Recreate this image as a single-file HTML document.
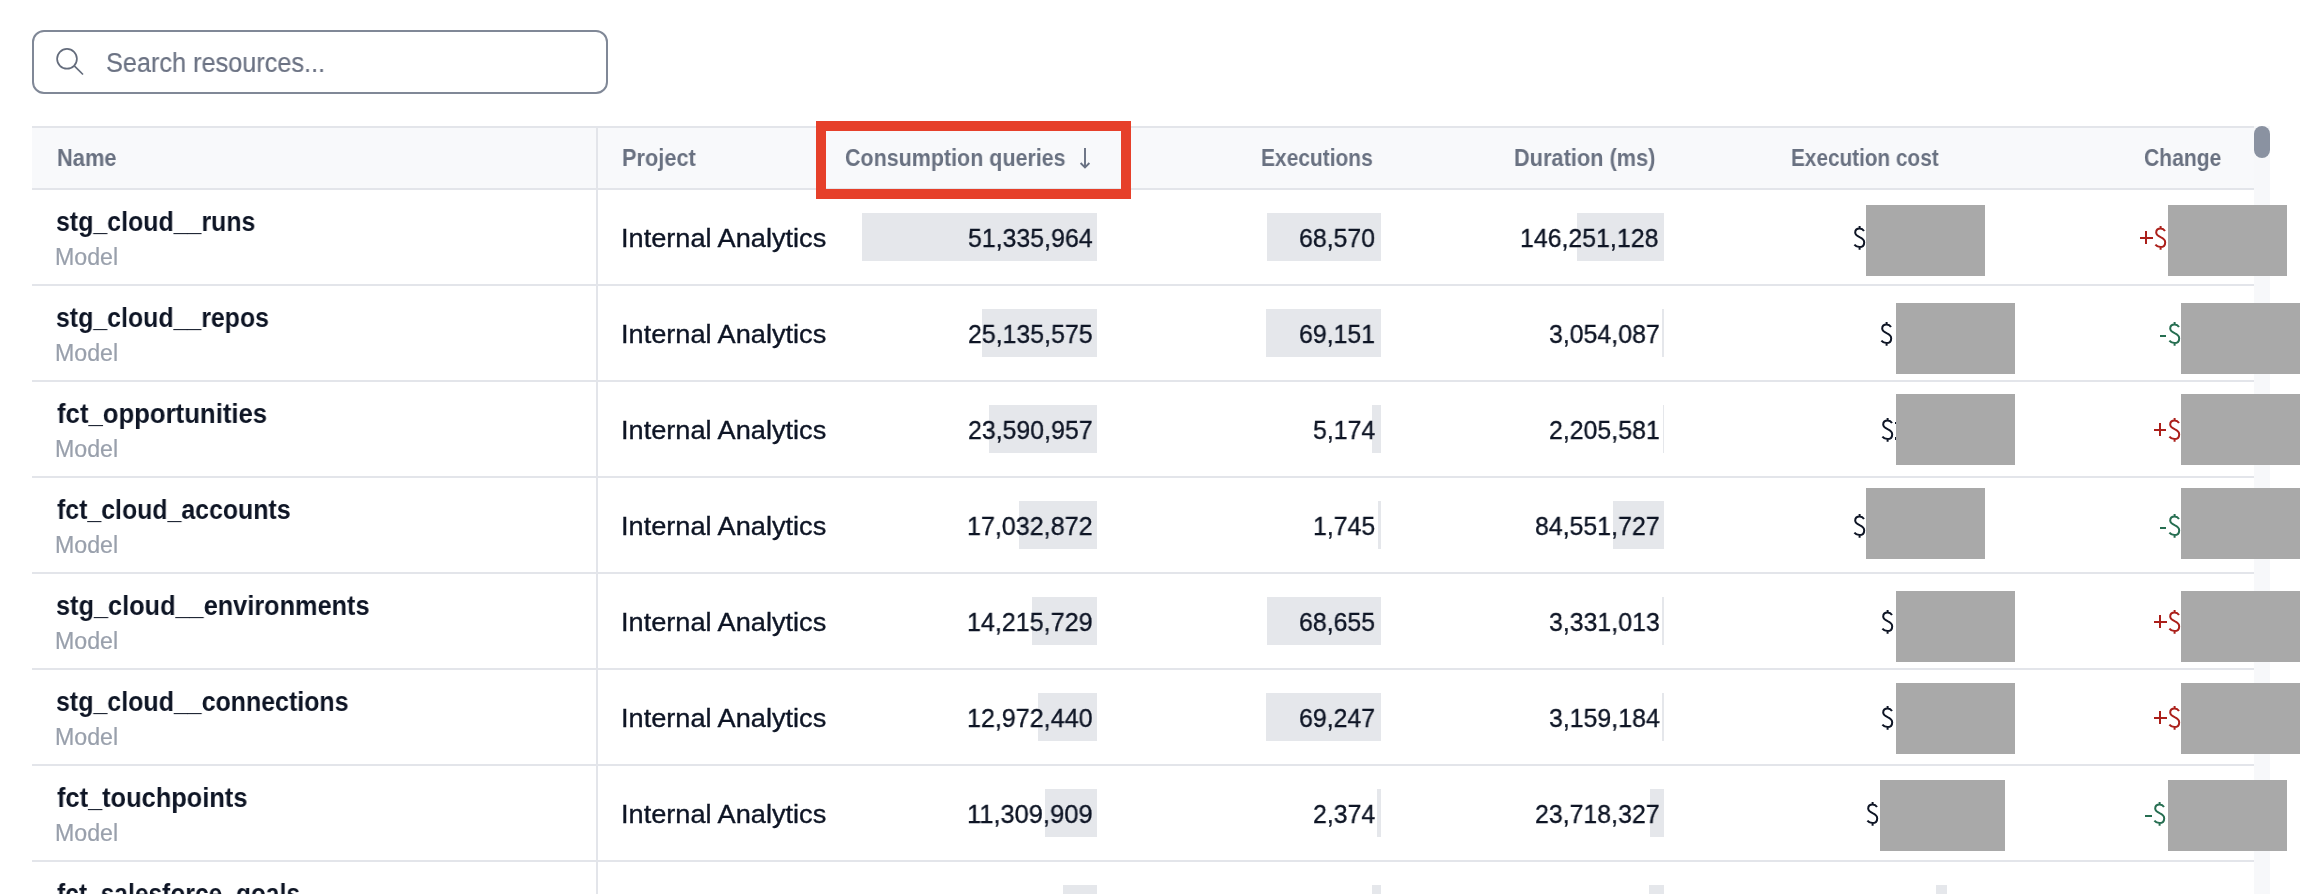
<!DOCTYPE html>
<html><head><meta charset="utf-8"><style>
html,body{margin:0;padding:0;background:#fff;width:2304px;height:894px;overflow:hidden;position:relative;font-family:"Liberation Sans",sans-serif}
.t{position:absolute;white-space:pre;line-height:0;transform-origin:0 0;will-change:transform}
.hl{position:absolute;left:32px;width:2222px;height:2px;background:#e3e5ea}
.bar{position:absolute;height:48px;background:#e5e7eb}
.rd{position:absolute;background:#a9a9a9}
#search{position:absolute;left:32px;top:30px;width:576px;height:64px;box-sizing:border-box;border:2px solid #808897;border-radius:12px}
#head{position:absolute;left:32px;top:126px;width:2222px;height:64px;box-sizing:border-box;background:#f8f9fb;border-top:2px solid #e3e5ea;border-bottom:2px solid #e3e5ea}
#vl{position:absolute;left:596px;top:127px;width:2px;height:767px;background:#e3e5ea}
#track{position:absolute;left:2254px;top:126px;width:16px;height:768px;background:#f7f8fa}
#thumb{position:absolute;left:2254px;top:126px;width:16px;height:32px;border-radius:8px;background:#8a92a1}
#redbox{position:absolute;left:816px;top:121px;width:315px;height:78px;box-sizing:border-box;border:10px solid #e6402a}
</style></head><body>
<div id="search"></div>
<svg style="position:absolute;left:0;top:0" width="100" height="100"><circle cx="67" cy="58.8" r="9.9" fill="none" stroke="#646c7c" stroke-width="1.7"/><line x1="74.3" y1="65.8" x2="83" y2="74.5" stroke="#646c7c" stroke-width="1.7"/></svg>
<div id="head"></div>
<div class=hl style="top:284px"></div>
<div class=hl style="top:380px"></div>
<div class=hl style="top:476px"></div>
<div class=hl style="top:572px"></div>
<div class=hl style="top:668px"></div>
<div class=hl style="top:764px"></div>
<div class=hl style="top:860px"></div>
<div id="vl"></div>
<div id="track"></div><div id="thumb"></div>
<div class=bar style="left:862.0px;top:213px;width:235.0px"></div>
<div class=bar style="left:1267.1px;top:213px;width:113.9px"></div>
<div class=bar style="left:1576.5px;top:213px;width:87.5px"></div>
<div class=bar style="left:981.9px;top:309px;width:115.1px"></div>
<div class=bar style="left:1266.2px;top:309px;width:114.8px"></div>
<div class=bar style="left:1662.2px;top:309px;width:1.8px"></div>
<div class=bar style="left:989.0px;top:405px;width:108.0px"></div>
<div class=bar style="left:1372.4px;top:405px;width:8.6px"></div>
<div class=bar style="left:1662.5px;top:405px;width:1.5px"></div>
<div class=bar style="left:1019.0px;top:501px;width:78.0px"></div>
<div class=bar style="left:1378.1px;top:501px;width:2.9px"></div>
<div class=bar style="left:1613.4px;top:501px;width:50.6px"></div>
<div class=bar style="left:1031.9px;top:597px;width:65.1px"></div>
<div class=bar style="left:1267.0px;top:597px;width:114.0px"></div>
<div class=bar style="left:1662.0px;top:597px;width:2.0px"></div>
<div class=bar style="left:1037.6px;top:693px;width:59.4px"></div>
<div class=bar style="left:1266.0px;top:693px;width:115.0px"></div>
<div class=bar style="left:1662.1px;top:693px;width:1.9px"></div>
<div class=bar style="left:1045.2px;top:789px;width:51.8px"></div>
<div class=bar style="left:1377.1px;top:789px;width:3.9px"></div>
<div class=bar style="left:1649.8px;top:789px;width:14.2px"></div>
<div class=bar style="left:1063.0px;top:885px;width:34.0px"></div>
<div class=bar style="left:1372.0px;top:885px;width:9.0px"></div>
<div class=bar style="left:1649.0px;top:885px;width:15.0px"></div>
<div class=bar style="left:1936.0px;top:885px;width:11.0px"></div>
<div class=t style="left:106.16px;top:63px;font-size:27px;font-weight:400;color:#6b7283;transform:scaleX(0.9364);-webkit-text-stroke:0.2px #6b7283">Search resources...</div>
<div class=t style="left:56.85px;top:158px;font-size:23px;font-weight:700;color:#697181;transform:scaleX(0.9508)">Name</div>
<div class=t style="left:622.05px;top:158px;font-size:23px;font-weight:700;color:#697181;transform:scaleX(0.9468)">Project</div>
<div class=t style="left:844.67px;top:158px;font-size:23px;font-weight:700;color:#697181;transform:scaleX(0.9332)">Consumption queries</div>
<div class=t style="left:1261.09px;top:158px;font-size:23px;font-weight:700;color:#697181;transform:scaleX(0.9107)">Executions</div>
<div class=t style="left:1514.45px;top:158px;font-size:23px;font-weight:700;color:#697181;transform:scaleX(0.9463)">Duration (ms)</div>
<div class=t style="left:1790.90px;top:158px;font-size:23px;font-weight:700;color:#697181;transform:scaleX(0.9025)">Execution cost</div>
<div class=t style="left:2144.48px;top:158px;font-size:23px;font-weight:700;color:#697181;transform:scaleX(0.9169)">Change</div>
<div class=t style="left:55.61px;top:222px;font-size:28px;font-weight:700;color:#0e1525;transform:scaleX(0.8896)">stg_cloud__runs</div>
<div class=t style="left:55.48px;top:257px;font-size:23px;font-weight:400;color:#99a0ac;transform:scaleX(1.0085);-webkit-text-stroke:0.2px #99a0ac">Model</div>
<div class=t style="left:620.95px;top:238px;font-size:26.5px;font-weight:400;color:#0e1525;transform:scaleX(1.0244);-webkit-text-stroke:0.35px #0e1525">Internal Analytics</div>
<div class=t style="left:55.61px;top:318px;font-size:28px;font-weight:700;color:#0e1525;transform:scaleX(0.8887)">stg_cloud__repos</div>
<div class=t style="left:55.48px;top:353px;font-size:23px;font-weight:400;color:#99a0ac;transform:scaleX(1.0085);-webkit-text-stroke:0.2px #99a0ac">Model</div>
<div class=t style="left:620.95px;top:334px;font-size:26.5px;font-weight:400;color:#0e1525;transform:scaleX(1.0244);-webkit-text-stroke:0.35px #0e1525">Internal Analytics</div>
<div class=t style="left:56.50px;top:414px;font-size:28px;font-weight:700;color:#0e1525;transform:scaleX(0.9189)">fct_opportunities</div>
<div class=t style="left:55.48px;top:449px;font-size:23px;font-weight:400;color:#99a0ac;transform:scaleX(1.0085);-webkit-text-stroke:0.2px #99a0ac">Model</div>
<div class=t style="left:620.95px;top:430px;font-size:26.5px;font-weight:400;color:#0e1525;transform:scaleX(1.0244);-webkit-text-stroke:0.35px #0e1525">Internal Analytics</div>
<div class=t style="left:56.50px;top:510px;font-size:28px;font-weight:700;color:#0e1525;transform:scaleX(0.8882)">fct_cloud_accounts</div>
<div class=t style="left:55.48px;top:545px;font-size:23px;font-weight:400;color:#99a0ac;transform:scaleX(1.0085);-webkit-text-stroke:0.2px #99a0ac">Model</div>
<div class=t style="left:620.95px;top:526px;font-size:26.5px;font-weight:400;color:#0e1525;transform:scaleX(1.0244);-webkit-text-stroke:0.35px #0e1525">Internal Analytics</div>
<div class=t style="left:55.60px;top:606px;font-size:28px;font-weight:700;color:#0e1525;transform:scaleX(0.9035)">stg_cloud__environments</div>
<div class=t style="left:55.48px;top:641px;font-size:23px;font-weight:400;color:#99a0ac;transform:scaleX(1.0085);-webkit-text-stroke:0.2px #99a0ac">Model</div>
<div class=t style="left:620.95px;top:622px;font-size:26.5px;font-weight:400;color:#0e1525;transform:scaleX(1.0244);-webkit-text-stroke:0.35px #0e1525">Internal Analytics</div>
<div class=t style="left:55.61px;top:702px;font-size:28px;font-weight:700;color:#0e1525;transform:scaleX(0.8911)">stg_cloud__connections</div>
<div class=t style="left:55.48px;top:737px;font-size:23px;font-weight:400;color:#99a0ac;transform:scaleX(1.0085);-webkit-text-stroke:0.2px #99a0ac">Model</div>
<div class=t style="left:620.95px;top:718px;font-size:26.5px;font-weight:400;color:#0e1525;transform:scaleX(1.0244);-webkit-text-stroke:0.35px #0e1525">Internal Analytics</div>
<div class=t style="left:56.50px;top:798px;font-size:28px;font-weight:700;color:#0e1525;transform:scaleX(0.9067)">fct_touchpoints</div>
<div class=t style="left:55.48px;top:833px;font-size:23px;font-weight:400;color:#99a0ac;transform:scaleX(1.0085);-webkit-text-stroke:0.2px #99a0ac">Model</div>
<div class=t style="left:620.95px;top:814px;font-size:26.5px;font-weight:400;color:#0e1525;transform:scaleX(1.0244);-webkit-text-stroke:0.35px #0e1525">Internal Analytics</div>
<div class=t style="left:56.50px;top:894px;font-size:28px;font-weight:700;color:#0e1525;transform:scaleX(0.8772)">fct_salesforce_goals</div>
<div class=t style="left:967.86px;top:238px;font-size:26.5px;font-weight:400;color:#0e1525;transform:scaleX(0.9389);-webkit-text-stroke:0.35px #0e1525">51,335,964</div>
<div class=t style="left:1299.39px;top:238px;font-size:26.5px;font-weight:400;color:#0e1525;transform:scaleX(0.9389);-webkit-text-stroke:0.35px #0e1525">68,570</div>
<div class=t style="left:1520.48px;top:238px;font-size:26.5px;font-weight:400;color:#0e1525;transform:scaleX(0.9389);-webkit-text-stroke:0.35px #0e1525">146,251,128</div>
<div class=t style="left:967.86px;top:334px;font-size:26.5px;font-weight:400;color:#0e1525;transform:scaleX(0.9389);-webkit-text-stroke:0.35px #0e1525">25,135,575</div>
<div class=t style="left:1299.39px;top:334px;font-size:26.5px;font-weight:400;color:#0e1525;transform:scaleX(0.9389);-webkit-text-stroke:0.35px #0e1525">69,151</div>
<div class=t style="left:1548.65px;top:334px;font-size:26.5px;font-weight:400;color:#0e1525;transform:scaleX(0.9389);-webkit-text-stroke:0.35px #0e1525">3,054,087</div>
<div class=t style="left:967.86px;top:430px;font-size:26.5px;font-weight:400;color:#0e1525;transform:scaleX(0.9389);-webkit-text-stroke:0.35px #0e1525">23,590,957</div>
<div class=t style="left:1312.53px;top:430px;font-size:26.5px;font-weight:400;color:#0e1525;transform:scaleX(0.9389);-webkit-text-stroke:0.35px #0e1525">5,174</div>
<div class=t style="left:1548.65px;top:430px;font-size:26.5px;font-weight:400;color:#0e1525;transform:scaleX(0.9389);-webkit-text-stroke:0.35px #0e1525">2,205,581</div>
<div class=t style="left:966.91px;top:526px;font-size:26.5px;font-weight:400;color:#0e1525;transform:scaleX(0.9462);-webkit-text-stroke:0.35px #0e1525">17,032,872</div>
<div class=t style="left:1313.47px;top:526px;font-size:26.5px;font-weight:400;color:#0e1525;transform:scaleX(0.9389);-webkit-text-stroke:0.35px #0e1525">1,745</div>
<div class=t style="left:1534.56px;top:526px;font-size:26.5px;font-weight:400;color:#0e1525;transform:scaleX(0.9389);-webkit-text-stroke:0.35px #0e1525">84,551,727</div>
<div class=t style="left:966.91px;top:622px;font-size:26.5px;font-weight:400;color:#0e1525;transform:scaleX(0.9462);-webkit-text-stroke:0.35px #0e1525">14,215,729</div>
<div class=t style="left:1299.39px;top:622px;font-size:26.5px;font-weight:400;color:#0e1525;transform:scaleX(0.9389);-webkit-text-stroke:0.35px #0e1525">68,655</div>
<div class=t style="left:1548.65px;top:622px;font-size:26.5px;font-weight:400;color:#0e1525;transform:scaleX(0.9389);-webkit-text-stroke:0.35px #0e1525">3,331,013</div>
<div class=t style="left:966.91px;top:718px;font-size:26.5px;font-weight:400;color:#0e1525;transform:scaleX(0.9462);-webkit-text-stroke:0.35px #0e1525">12,972,440</div>
<div class=t style="left:1299.39px;top:718px;font-size:26.5px;font-weight:400;color:#0e1525;transform:scaleX(0.9389);-webkit-text-stroke:0.35px #0e1525">69,247</div>
<div class=t style="left:1548.65px;top:718px;font-size:26.5px;font-weight:400;color:#0e1525;transform:scaleX(0.9389);-webkit-text-stroke:0.35px #0e1525">3,159,184</div>
<div class=t style="left:966.88px;top:814px;font-size:26.5px;font-weight:400;color:#0e1525;transform:scaleX(0.9609);-webkit-text-stroke:0.35px #0e1525">11,309,909</div>
<div class=t style="left:1312.53px;top:814px;font-size:26.5px;font-weight:400;color:#0e1525;transform:scaleX(0.9389);-webkit-text-stroke:0.35px #0e1525">2,374</div>
<div class=t style="left:1534.56px;top:814px;font-size:26.5px;font-weight:400;color:#0e1525;transform:scaleX(0.9389);-webkit-text-stroke:0.35px #0e1525">23,718,327</div>
<svg style="position:absolute;left:0;top:0" width="1200" height="200"><path d="M1085 148 V167 M1080.6 163 L1085 167.4 L1089.4 163" fill="none" stroke="#697183" stroke-width="1.9"/></svg>
<div style="position:absolute;left:2140.1px;top:236.5px;width:12.7px;height:2px;background:#ab1f1a"></div>
<div style="position:absolute;left:2145.4px;top:231.2px;width:2px;height:12.7px;background:#ab1f1a"></div>
<div style="position:absolute;left:2160.0px;top:334.8px;width:6.4px;height:1.9px;background:#266e51"></div>
<div style="position:absolute;left:2153.5px;top:428.5px;width:12.7px;height:2px;background:#ab1f1a"></div>
<div style="position:absolute;left:2158.8px;top:423.2px;width:2px;height:12.7px;background:#ab1f1a"></div>
<div style="position:absolute;left:2159.5px;top:526.8px;width:6.4px;height:1.9px;background:#266e51"></div>
<div style="position:absolute;left:2154.0px;top:620.5px;width:12.7px;height:2px;background:#ab1f1a"></div>
<div style="position:absolute;left:2159.3px;top:615.2px;width:2px;height:12.7px;background:#ab1f1a"></div>
<div style="position:absolute;left:2154.0px;top:716.5px;width:12.7px;height:2px;background:#ab1f1a"></div>
<div style="position:absolute;left:2159.3px;top:711.2px;width:2px;height:12.7px;background:#ab1f1a"></div>
<div style="position:absolute;left:2145.2px;top:814.8px;width:6.4px;height:1.9px;background:#266e51"></div>
<svg style="position:absolute;left:1852.5px;top:225.0px" width="14" height="26" viewBox="-1 -1 14 26"><path d="M10 5 C9 3.4 7.5 2.6 5.6 2.6 C3 2.6 1.2 4.2 1.2 6.5 C1.2 9 3.2 10 5.6 11.2 C8.2 12.4 10.2 13.6 10.2 16.4 C10.2 19.2 8.2 21 5.4 21 C3.2 21 1.5 20 0.4 18.6 M5.6 0 V2.6 M5.6 21 V23.8" fill="none" stroke="#0e1525" stroke-width="2"/></svg>
<svg style="position:absolute;left:2154.1px;top:225.0px" width="14" height="26" viewBox="-1 -1 14 26"><path d="M10 5 C9 3.4 7.5 2.6 5.6 2.6 C3 2.6 1.2 4.2 1.2 6.5 C1.2 9 3.2 10 5.6 11.2 C8.2 12.4 10.2 13.6 10.2 16.4 C10.2 19.2 8.2 21 5.4 21 C3.2 21 1.5 20 0.4 18.6 M5.6 0 V2.6 M5.6 21 V23.8" fill="none" stroke="#ab1f1a" stroke-width="2"/></svg>
<svg style="position:absolute;left:1880.0px;top:321.0px" width="14" height="26" viewBox="-1 -1 14 26"><path d="M10 5 C9 3.4 7.5 2.6 5.6 2.6 C3 2.6 1.2 4.2 1.2 6.5 C1.2 9 3.2 10 5.6 11.2 C8.2 12.4 10.2 13.6 10.2 16.4 C10.2 19.2 8.2 21 5.4 21 C3.2 21 1.5 20 0.4 18.6 M5.6 0 V2.6 M5.6 21 V23.8" fill="none" stroke="#0e1525" stroke-width="2"/></svg>
<svg style="position:absolute;left:2168.0px;top:321.0px" width="14" height="26" viewBox="-1 -1 14 26"><path d="M10 5 C9 3.4 7.5 2.6 5.6 2.6 C3 2.6 1.2 4.2 1.2 6.5 C1.2 9 3.2 10 5.6 11.2 C8.2 12.4 10.2 13.6 10.2 16.4 C10.2 19.2 8.2 21 5.4 21 C3.2 21 1.5 20 0.4 18.6 M5.6 0 V2.6 M5.6 21 V23.8" fill="none" stroke="#266e51" stroke-width="2"/></svg>
<svg style="position:absolute;left:1880.8px;top:417.0px" width="14" height="26" viewBox="-1 -1 14 26"><path d="M10 5 C9 3.4 7.5 2.6 5.6 2.6 C3 2.6 1.2 4.2 1.2 6.5 C1.2 9 3.2 10 5.6 11.2 C8.2 12.4 10.2 13.6 10.2 16.4 C10.2 19.2 8.2 21 5.4 21 C3.2 21 1.5 20 0.4 18.6 M5.6 0 V2.6 M5.6 21 V23.8" fill="none" stroke="#0e1525" stroke-width="2"/></svg>
<svg style="position:absolute;left:2167.5px;top:417.0px" width="14" height="26" viewBox="-1 -1 14 26"><path d="M10 5 C9 3.4 7.5 2.6 5.6 2.6 C3 2.6 1.2 4.2 1.2 6.5 C1.2 9 3.2 10 5.6 11.2 C8.2 12.4 10.2 13.6 10.2 16.4 C10.2 19.2 8.2 21 5.4 21 C3.2 21 1.5 20 0.4 18.6 M5.6 0 V2.6 M5.6 21 V23.8" fill="none" stroke="#ab1f1a" stroke-width="2"/></svg>
<svg style="position:absolute;left:1852.7px;top:513.0px" width="14" height="26" viewBox="-1 -1 14 26"><path d="M10 5 C9 3.4 7.5 2.6 5.6 2.6 C3 2.6 1.2 4.2 1.2 6.5 C1.2 9 3.2 10 5.6 11.2 C8.2 12.4 10.2 13.6 10.2 16.4 C10.2 19.2 8.2 21 5.4 21 C3.2 21 1.5 20 0.4 18.6 M5.6 0 V2.6 M5.6 21 V23.8" fill="none" stroke="#0e1525" stroke-width="2"/></svg>
<svg style="position:absolute;left:2167.5px;top:513.0px" width="14" height="26" viewBox="-1 -1 14 26"><path d="M10 5 C9 3.4 7.5 2.6 5.6 2.6 C3 2.6 1.2 4.2 1.2 6.5 C1.2 9 3.2 10 5.6 11.2 C8.2 12.4 10.2 13.6 10.2 16.4 C10.2 19.2 8.2 21 5.4 21 C3.2 21 1.5 20 0.4 18.6 M5.6 0 V2.6 M5.6 21 V23.8" fill="none" stroke="#266e51" stroke-width="2"/></svg>
<svg style="position:absolute;left:1880.7px;top:609.0px" width="14" height="26" viewBox="-1 -1 14 26"><path d="M10 5 C9 3.4 7.5 2.6 5.6 2.6 C3 2.6 1.2 4.2 1.2 6.5 C1.2 9 3.2 10 5.6 11.2 C8.2 12.4 10.2 13.6 10.2 16.4 C10.2 19.2 8.2 21 5.4 21 C3.2 21 1.5 20 0.4 18.6 M5.6 0 V2.6 M5.6 21 V23.8" fill="none" stroke="#0e1525" stroke-width="2"/></svg>
<svg style="position:absolute;left:2168.0px;top:609.0px" width="14" height="26" viewBox="-1 -1 14 26"><path d="M10 5 C9 3.4 7.5 2.6 5.6 2.6 C3 2.6 1.2 4.2 1.2 6.5 C1.2 9 3.2 10 5.6 11.2 C8.2 12.4 10.2 13.6 10.2 16.4 C10.2 19.2 8.2 21 5.4 21 C3.2 21 1.5 20 0.4 18.6 M5.6 0 V2.6 M5.6 21 V23.8" fill="none" stroke="#ab1f1a" stroke-width="2"/></svg>
<svg style="position:absolute;left:1880.5px;top:705.0px" width="14" height="26" viewBox="-1 -1 14 26"><path d="M10 5 C9 3.4 7.5 2.6 5.6 2.6 C3 2.6 1.2 4.2 1.2 6.5 C1.2 9 3.2 10 5.6 11.2 C8.2 12.4 10.2 13.6 10.2 16.4 C10.2 19.2 8.2 21 5.4 21 C3.2 21 1.5 20 0.4 18.6 M5.6 0 V2.6 M5.6 21 V23.8" fill="none" stroke="#0e1525" stroke-width="2"/></svg>
<svg style="position:absolute;left:2168.0px;top:705.0px" width="14" height="26" viewBox="-1 -1 14 26"><path d="M10 5 C9 3.4 7.5 2.6 5.6 2.6 C3 2.6 1.2 4.2 1.2 6.5 C1.2 9 3.2 10 5.6 11.2 C8.2 12.4 10.2 13.6 10.2 16.4 C10.2 19.2 8.2 21 5.4 21 C3.2 21 1.5 20 0.4 18.6 M5.6 0 V2.6 M5.6 21 V23.8" fill="none" stroke="#ab1f1a" stroke-width="2"/></svg>
<svg style="position:absolute;left:1866.4px;top:801.0px" width="14" height="26" viewBox="-1 -1 14 26"><path d="M10 5 C9 3.4 7.5 2.6 5.6 2.6 C3 2.6 1.2 4.2 1.2 6.5 C1.2 9 3.2 10 5.6 11.2 C8.2 12.4 10.2 13.6 10.2 16.4 C10.2 19.2 8.2 21 5.4 21 C3.2 21 1.5 20 0.4 18.6 M5.6 0 V2.6 M5.6 21 V23.8" fill="none" stroke="#0e1525" stroke-width="2"/></svg>
<svg style="position:absolute;left:2153.2px;top:801.0px" width="14" height="26" viewBox="-1 -1 14 26"><path d="M10 5 C9 3.4 7.5 2.6 5.6 2.6 C3 2.6 1.2 4.2 1.2 6.5 C1.2 9 3.2 10 5.6 11.2 C8.2 12.4 10.2 13.6 10.2 16.4 C10.2 19.2 8.2 21 5.4 21 C3.2 21 1.5 20 0.4 18.6 M5.6 0 V2.6 M5.6 21 V23.8" fill="none" stroke="#266e51" stroke-width="2"/></svg>
<div style="position:absolute;left:1895px;top:422px;width:1.5px;height:2px;background:#0e1525"></div><div style="position:absolute;left:1895px;top:437px;width:1.5px;height:2.5px;background:#0e1525"></div>
<div class=rd style="left:1866px;top:205px;width:119px;height:71px"></div>
<div class=rd style="left:2168px;top:205px;width:119px;height:71px"></div>
<div class=rd style="left:1896px;top:303px;width:119px;height:71px"></div>
<div class=rd style="left:2181px;top:303px;width:119px;height:71px"></div>
<div class=rd style="left:1896px;top:394px;width:119px;height:71px"></div>
<div class=rd style="left:2181px;top:394px;width:119px;height:71px"></div>
<div class=rd style="left:1866px;top:488px;width:119px;height:71px"></div>
<div class=rd style="left:2181px;top:488px;width:119px;height:71px"></div>
<div class=rd style="left:1896px;top:591px;width:119px;height:71px"></div>
<div class=rd style="left:2181px;top:591px;width:119px;height:71px"></div>
<div class=rd style="left:1896px;top:683px;width:119px;height:71px"></div>
<div class=rd style="left:2181px;top:683px;width:119px;height:71px"></div>
<div class=rd style="left:1880px;top:780px;width:125px;height:71px"></div>
<div class=rd style="left:2168px;top:780px;width:119px;height:71px"></div>
<div id="redbox"></div>
</body></html>
